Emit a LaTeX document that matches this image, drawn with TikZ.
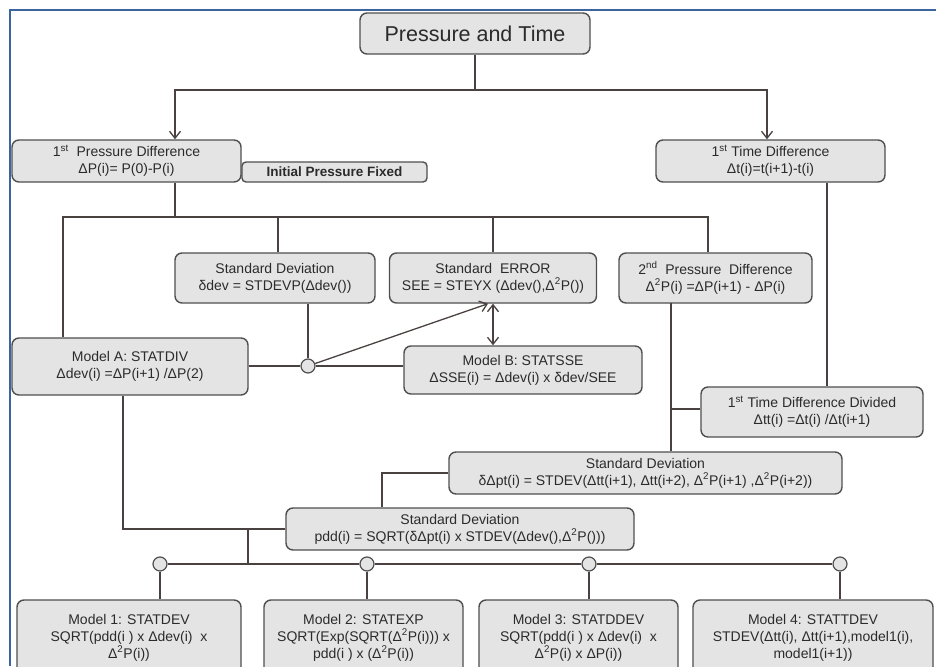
\documentclass[tikz,border=0pt]{standalone}
\usepackage{fontspec}
\setmainfont{Liberation Sans}
\usepackage{xcolor}
\usepackage{tikz}
\usetikzlibrary{arrows.meta}
\usetikzlibrary{positioning}

\definecolor{boxfill}{HTML}{E4E4E4}
\definecolor{boxline}{HTML}{4F4F4F}
\definecolor{wirecol}{HTML}{4A4240}
\definecolor{frameblue}{HTML}{3C64A0}
\definecolor{txtcol}{HTML}{2B2B2B}

\begin{document}
\begin{tikzpicture}[
  x=1pt, y=-1pt,
  box/.style={draw=boxline, fill=boxfill, line width=1.4pt, rounded corners=7pt,
    align=center, inner sep=0pt, text=txtcol, font=\fontsize{14}{17}\selectfont},
  sz/.style 2 args={minimum width=#1, minimum height=#2},
  dot/.style={circle, draw=boxline, fill=boxfill, line width=1.2pt, minimum size=14pt, inner sep=0pt},
  wire/.style={draw=wirecol, line width=1.3pt},
  arr/.style={wire, -{Straight Barb[length=7pt,width=11pt]}},
  darr/.style={wire, {Straight Barb[length=7pt,width=11pt]}-{Straight Barb[length=7pt,width=11pt]}}
]
  \useasboundingbox (0,0) rectangle (936,666);
  \draw[frameblue, line width=2pt] (10,666) -- (10,10) -- (936,10);

  \node[box, sz={230}{41}, font=\fontsize{21.5}{24}\selectfont] (title) at (475,33.5) {Pressure and Time};
  \node[box, sz={229}{42}] (pd1) at (126.5,161) {1\textsuperscript{st}\ \ Pressure Difference\\ΔP(i)= P(0)-P(i)};
  \node[box, sz={185}{20}, rounded corners=4pt, font=\fontsize{13.5}{16}\selectfont\bfseries] (fixed) at (334.5,172) {Initial Pressure Fixed};
  \node[box, sz={229}{42}] (td1) at (770.5,161) {1\textsuperscript{st} Time Difference\\Δt(i)=t(i+1)-t(i)};

  \node[box, sz={200}{50}] (sdev) at (275,278) {Standard Deviation\\δdev = STDEVP(Δdev())};
  \node[box, sz={207}{50}] (see) at (493,278) {Standard\ \ ERROR\\SEE = STEYX (Δdev(),Δ\textsuperscript{2}P())};
  \node[box, sz={193}{50}] (pd2) at (715.5,278) {2\textsuperscript{nd}\ \ Pressure\ \ Difference\\Δ\textsuperscript{2}P(i) =ΔP(i+1) - ΔP(i)};
  \node[box, sz={236}{57}] (modA) at (130,366.5) {Model A: STATDIV\\Δdev(i) =ΔP(i+1) /ΔP(2)};
  \node[box, sz={238}{48}] (modB) at (523,370) {Model B: STATSSE\\ΔSSE(i) = Δdev(i) x δdev/SEE};
  \node[box, sz={222}{50}] (tdd) at (812,412) {1\textsuperscript{st} Time Difference Divided\\Δtt(i) =Δt(i) /Δt(i+1)};
  \node[box, sz={393}{42}] (sdpt) at (645.5,473) {Standard Deviation\\δΔpt(i) = STDEV(Δtt(i+1), Δtt(i+2), Δ\textsuperscript{2}P(i+1) ,Δ\textsuperscript{2}P(i+2))};
  \node[box, sz={348}{42}] (pdd) at (460,529) {Standard Deviation\\pdd(i) = SQRT(δΔpt(i) x STDEV(Δdev(),Δ\textsuperscript{2}P()))};

  \node[box, sz={224}{75}] (m1) at (129,637.5) {Model 1: STATDEV\\SQRT(pdd(i ) x Δdev(i)\ \ x\\Δ\textsuperscript{2}P(i))};
  \node[box, sz={199}{75}] (m2) at (363.5,637.5) {Model 2: STATEXP\\SQRT(Exp(SQRT(Δ\textsuperscript{2}P(i))) x\\pdd(i ) x (Δ\textsuperscript{2}P(i))};
  \node[box, sz={199}{75}] (m3) at (578.5,637.5) {Model 3: STATDDEV\\SQRT(pdd(i ) x Δdev(i)\ \ x\\Δ\textsuperscript{2}P(i) x ΔP(i))};
  \node[box, sz={240}{75}] (m4) at (813,637.5) {Model 4: STATTDEV\\STDEV(Δtt(i), Δtt(i+1),model1(i),\\model1(i+1))};

  \coordinate (split) at (475,90);
  \coordinate (busP) at (175,217);
  \coordinate (pdout) at (671,303);
  \coordinate (jn) at (248,529);
  \coordinate (busM) at (248,564);

  \draw[wire] (title.south) -- (split);
  \draw[arr] (split) -| ([xshift=48.5pt]pd1.north);
  \draw[arr] (split) -| ([xshift=-3.5pt]td1.north);

  \draw[wire] (busP |- pd1.south) -- (busP);
  \draw[wire] ([xshift=-67pt]modA.north) |- (busP) -| ([xshift=-7.5pt]pd2.north);
  \draw[wire] ([xshift=3pt]sdev.north) -- ([xshift=3pt]sdev.north |- busP);
  \draw[wire] (see.north) -- (see.north |- busP);
  \draw[wire] ([xshift=56.5pt]td1.south) -- ([xshift=56.5pt]td1.south |- tdd.north);

  \node[dot] (cA) at (308,366) {};
  \draw[wire] (cA |- sdev.south) -- (cA);
  \draw[wire] (modA.east |- cA) -- (cA) -- (cA -| modB.west);
  \draw[arr] (cA) -- ([xshift=-5pt]see.south);
  \draw[darr] (see.south) -- (see.south |- modB.north);

  \draw[wire] (pdout) -- (pdout |- sdpt.north);
  \draw[wire] ([yshift=3pt]tdd.west) -- ([yshift=3pt]tdd.west -| pdout);
  \draw[wire] (sdpt.west) -| ([xshift=-78pt]pdd.north);
  \draw[wire] ([xshift=-7pt]modA.south) |- (pdd.west);
  \draw[wire] (jn) -- (busM);

  \node[dot] (c1) at (160,564) {};
  \node[dot] (c2) at (367,564) {};
  \node[dot] (c3) at (589,564) {};
  \node[dot] (c4) at (840,564) {};
  \draw[wire] (c1) -- (c2) -- (c3) -- (c4);
  \draw[wire] (c1) -- (c1 |- m1.north);
  \draw[wire] (c2) -- (c2 |- m2.north);
  \draw[wire] (c3) -- (c3 |- m3.north);
  \draw[wire] (c4) -- (c4 |- m4.north);
\end{tikzpicture}
\end{document}
